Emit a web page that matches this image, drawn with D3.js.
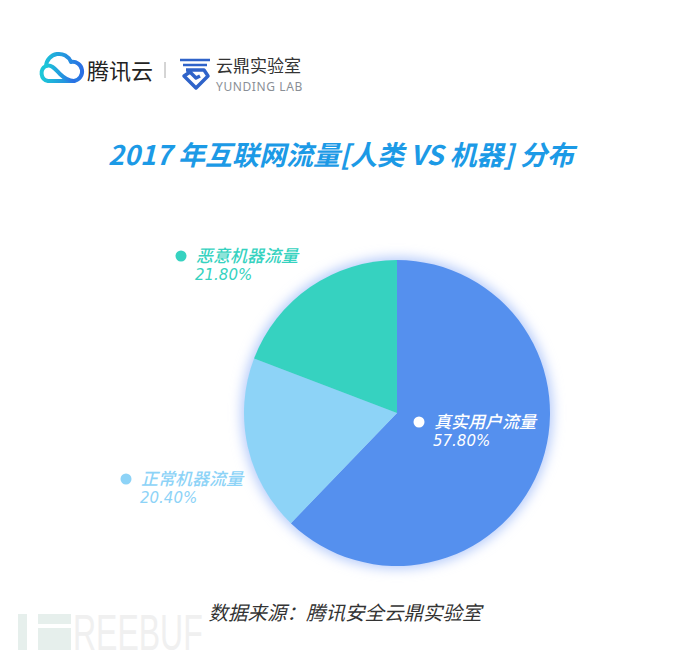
<!DOCTYPE html>
<html>
<head>
<meta charset="utf-8">
<script src="https://cdn.jsdelivr.net/npm/d3@7"></script>
<style>
  body { margin: 0; background: #fff; }
  svg { display: block; }
</style>
</head>
<body>
<svg id="chart" width="690" height="662"></svg>
<script>
// data
const categories = ["真实用户流量", "正常机器流量", "恶意机器流量"];
const shares = [57.8, 20.4, 21.8];          // percentages printed in the labels
const sliceSizes = [62.2, 18.6, 19.2];      // slice sizes as drawn in the picture
const sliceColors = ["#5590ee", "#8dd3f7", "#36d2c0"];
const labelColors = ["#ffffff", "#8dd3f7", "#36d2c0"];
const titleText = "2017 年互联网流量[人类 VS 机器] 分布";
const sourceText = "数据来源：腾讯安全云鼎实验室";

const svg = d3.select("#chart");
const cjk = "'Noto Sans CJK SC', 'Noto Sans', sans-serif";

const defs = svg.append("defs");
const glow = defs.append("filter").attr("id", "glow")
  .attr("x", "-20%").attr("y", "-20%").attr("width", "140%").attr("height", "140%");
glow.append("feGaussianBlur").attr("stdDeviation", 6);

const cloudGrad = defs.append("linearGradient").attr("id", "cloudGrad")
  .attr("x1", "0%").attr("x2", "100%");
cloudGrad.append("stop").attr("offset", "0%").attr("stop-color", "#1cc8d8");
cloudGrad.append("stop").attr("offset", "100%").attr("stop-color", "#2a6fe4");

// header logos
const logo = svg.append("g");
// cloud outline
logo.append("path")
  .attr("d", "M48,81 A8,8 0 0 1 46,66 A13,13 0 0 1 71,62 A9,9 0 0 1 74,81 Z")
  .attr("fill", "none").attr("stroke", "url(#cloudGrad)").attr("stroke-width", 4)
  .attr("stroke-linejoin", "round");
// inner loop
logo.append("path")
  .attr("d", "M46,66 C52,64 56,70 60,74 C64,78 68,81 74,81")
  .attr("fill", "none").attr("stroke", "url(#cloudGrad)").attr("stroke-width", 4)
  .attr("stroke-linecap", "round");
logo.append("text").attr("x", 87).attr("y", 79)
  .attr("font-family", cjk).attr("font-size", 22).attr("fill", "#222")
  .text("腾讯云");
logo.append("line").attr("x1", 165).attr("x2", 165).attr("y1", 62).attr("y2", 78)
  .attr("stroke", "#aaa").attr("stroke-width", 1);
// yunding mark
logo.append("path").attr("d", "M180,60 L210,60 M183,65 L207,65")
  .attr("stroke", "#2f63c9").attr("stroke-width", 2.5);
logo.append("path")
  .attr("d", "M186,70 L204,70 L208,76 L196,88 L184,76 L190,72 L196,78 L200,76")
  .attr("fill", "none").attr("stroke", "#2f63c9").attr("stroke-width", 3.5)
  .attr("stroke-linejoin", "round");
logo.append("text").attr("x", 216).attr("y", 72)
  .attr("font-family", cjk).attr("font-size", 17).attr("fill", "#333")
  .text("云鼎实验室");
logo.append("text").attr("x", 216).attr("y", 91)
  .attr("font-family", "'Noto Sans', sans-serif").attr("font-size", 12)
  .attr("letter-spacing", 0.6).attr("fill", "#8a8f96")
  .text("YUNDING LAB");

// title
svg.append("text").attr("x", 341).attr("y", 165)
  .attr("text-anchor", "middle")
  .attr("font-family", cjk).attr("font-size", 27).attr("font-weight", 700)
  .attr("font-style", "italic").attr("fill", "#1c9ae6")
  .text(titleText);

// pie
const cx = 397, cy = 413, radius = 153;
const pie = d3.pie().sort(null).value(d => d)(sliceSizes);
const arc = d3.arc().innerRadius(0).outerRadius(radius);

const g = svg.append("g").attr("transform", `translate(${cx},${cy})`);
g.append("circle").attr("r", radius + 3).attr("fill", "#b7ccfa")
  .attr("filter", "url(#glow)");
g.selectAll("path.slice")
  .data(pie)
  .join("path")
  .attr("class", "slice")
  .attr("d", arc)
  .attr("fill", (d, i) => sliceColors[i]);

// labels: dot + name + percentage, placed around the pie
const labelOffsets = [[22, 9], [-271, 66], [-216, -157]];
const labels = svg.append("g").selectAll("g")
  .data(shares)
  .join("g")
  .attr("transform", (d, i) => `translate(${cx + labelOffsets[i][0]},${cy + labelOffsets[i][1]})`);
labels.append("circle").attr("r", 5.5).attr("fill", (d, i) => labelColors[i]);
labels.append("text").attr("x", 15).attr("y", 6)
  .attr("font-family", cjk).attr("font-size", 17).attr("font-weight", 500)
  .attr("font-style", "italic")
  .attr("fill", (d, i) => labelColors[i])
  .text((d, i) => categories[i]);
labels.append("text").attr("x", 14).attr("y", 24)
  .attr("font-family", "'DejaVu Sans', sans-serif").attr("font-size", 15)
  .attr("font-style", "italic")
  .attr("fill", (d, i) => labelColors[i])
  .text(d => d.toFixed(2) + "%");

// watermark
const wm = svg.append("g");
wm.append("rect").attr("x", 18).attr("y", 614).attr("width", 9).attr("height", 36)
  .attr("fill", "#e6efec");
wm.append("rect").attr("x", 38).attr("y", 614).attr("width", 33).attr("height", 10)
  .attr("fill", "#e6efec");
wm.append("rect").attr("x", 38).attr("y", 628).attr("width", 33).attr("height", 22)
  .attr("fill", "#e6efec");
wm.append("text")
  .attr("transform", "translate(73,650) scale(1,1.55)")
  .attr("font-family", "'Liberation Sans', sans-serif").attr("font-size", 32)
  .attr("fill", "#f0f0f0")
  .text("REEBUF");

// source
svg.append("text").attr("x", 345).attr("y", 620)
  .attr("text-anchor", "middle")
  .attr("font-family", cjk).attr("font-size", 19.5).attr("font-style", "italic")
  .attr("fill", "#333")
  .text(sourceText);
</script>
</body>
</html>
